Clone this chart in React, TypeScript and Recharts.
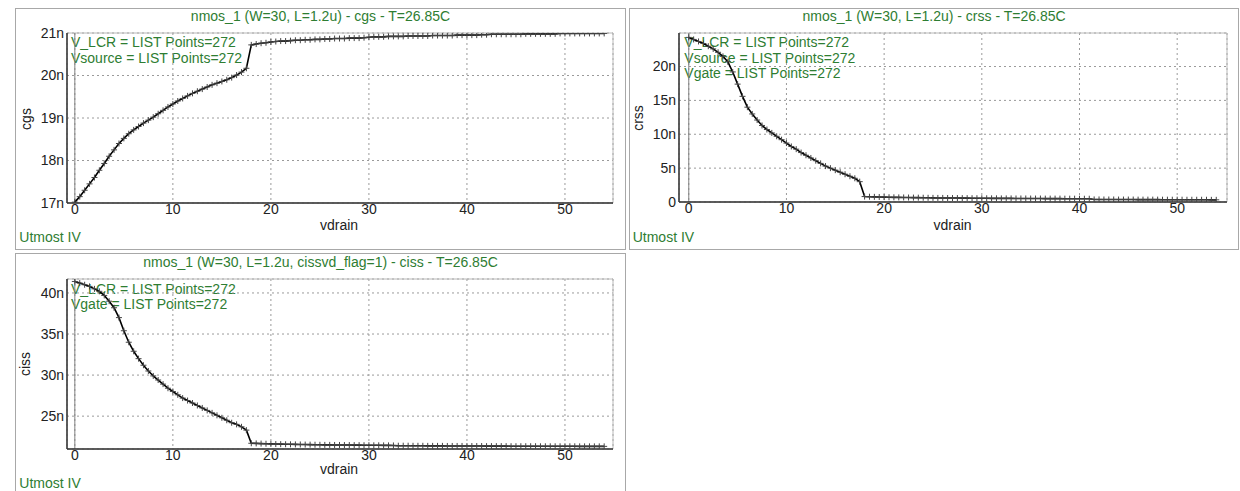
import React from 'react';
import { LineChart, Line, XAxis, YAxis, CartesianGrid, ReferenceLine, ReferenceArea } from 'recharts';

// drain sweep (V)
const VDRAIN = [
  0, 0.5, 1, 1.5, 2, 2.5, 3, 3.5, 4, 4.5, 5, 5.5, 6, 6.5, 7, 7.5, 8, 8.5, 9, 9.5,
  10, 10.5, 11, 11.5, 12, 12.5, 13, 13.5, 14, 14.5, 15, 15.5, 16, 16.5, 17, 17.5, 18, 18.5, 19, 19.5,
  20, 20.5, 21, 21.5, 22, 22.5, 23, 23.5, 24, 24.5, 25, 25.5, 26, 26.5, 27, 27.5, 28, 28.5, 29, 29.5,
  30, 30.5, 31, 31.5, 32, 32.5, 33, 33.5, 34, 34.5, 35, 35.5, 36, 36.5, 37, 37.5, 38, 38.5, 39, 39.5,
  40, 40.5, 41, 41.5, 42, 42.5, 43, 43.5, 44, 44.5, 45, 45.5, 46, 46.5, 47, 47.5, 48, 48.5, 49, 49.5,
  50, 50.5, 51, 51.5, 52, 52.5, 53, 53.5, 54,
];

// capacitances in nF
const CGS = [
  17.02, 17.15, 17.3, 17.45, 17.6, 17.77, 17.93, 18.1, 18.25, 18.4, 18.52, 18.63, 18.72, 18.8, 18.88, 18.95, 19.02, 19.1, 19.18, 19.26,
  19.33, 19.4, 19.46, 19.52, 19.58, 19.63, 19.68, 19.73, 19.78, 19.82, 19.86, 19.9, 19.95, 20.01, 20.08, 20.17, 20.72, 20.74, 20.76, 20.77,
  20.79, 20.8, 20.81, 20.81, 20.82, 20.83, 20.83, 20.84, 20.84, 20.85, 20.85, 20.86, 20.86, 20.87, 20.87, 20.87, 20.88, 20.88, 20.88, 20.89,
  20.9, 20.91, 20.91, 20.91, 20.92, 20.92, 20.92, 20.92, 20.93, 20.93, 20.93, 20.93, 20.93, 20.94, 20.94, 20.94, 20.94, 20.94, 20.95, 20.95,
  20.95, 20.95, 20.95, 20.96, 20.96, 20.97, 20.97, 20.97, 20.97, 20.97, 20.97, 20.97, 20.98, 20.98, 20.98, 20.98, 20.98, 20.98, 20.98, 20.99,
  20.99, 20.99, 20.99, 20.99, 20.99, 20.99, 20.99, 20.99, 20.99,
];

const CRSS = [
  24.3, 24.0, 23.7, 23.4, 23.0, 22.6, 22.1, 21.5, 20.7, 19.2, 17.4, 15.6, 14.0, 13.0, 12.1, 11.3, 10.7, 10.2, 9.7, 9.2,
  8.7, 8.2, 7.8, 7.3, 6.9, 6.5, 6.1, 5.7, 5.3, 5.0, 4.7, 4.4, 4.1, 3.8, 3.5, 3.0, 0.8, 0.78, 0.76, 0.74,
  0.72, 0.7, 0.69, 0.68, 0.67, 0.66, 0.65, 0.64, 0.63, 0.62, 0.61, 0.6, 0.6, 0.59, 0.58, 0.58, 0.57, 0.57, 0.56, 0.56,
  0.55, 0.55, 0.54, 0.54, 0.53, 0.53, 0.53, 0.52, 0.52, 0.52, 0.51, 0.51, 0.51, 0.5, 0.5, 0.5, 0.5, 0.49, 0.49, 0.49,
  0.48, 0.48, 0.48, 0.38, 0.38, 0.37, 0.37, 0.37, 0.36, 0.36, 0.36, 0.36, 0.35, 0.35, 0.35, 0.35, 0.35, 0.34, 0.34, 0.34,
  0.34, 0.34, 0.33, 0.33, 0.33, 0.33, 0.33, 0.32, 0.32,
];

const CISS = [
  41.4, 41.2, 41.0, 40.8, 40.5, 40.2, 39.7, 39.0, 38.2, 37.0, 35.4, 34.0, 32.9, 32.0, 31.2, 30.5, 29.9, 29.4, 28.9, 28.4,
  28.0, 27.6, 27.2, 26.9, 26.6, 26.3, 26.0, 25.7, 25.4, 25.1, 24.8, 24.5, 24.2, 24.0, 23.7, 23.3, 21.7, 21.68, 21.66, 21.64,
  21.62, 21.6, 21.59, 21.58, 21.57, 21.56, 21.55, 21.54, 21.53, 21.52, 21.51, 21.5, 21.5, 21.49, 21.49, 21.48, 21.48, 21.47, 21.47, 21.46,
  21.46, 21.45, 21.45, 21.44, 21.44, 21.43, 21.4, 21.4, 21.4, 21.39, 21.39, 21.39, 21.38, 21.38, 21.38, 21.38, 21.37, 21.37, 21.37, 21.37,
  21.36, 21.36, 21.36, 21.36, 21.35, 21.35, 21.35, 21.35, 21.35, 21.34, 21.34, 21.34, 21.34, 21.34, 21.34, 21.33, 21.33, 21.33, 21.33, 21.33,
  21.33, 21.33, 21.33, 21.32, 21.32, 21.32, 21.32, 21.32, 21.32,
];

const X_TICKS = [0, 10, 20, 30, 40, 50];
const X_MINOR = [0, 2, 4, 6, 8, 10, 12, 14, 16, 18, 20, 22, 24, 26, 28, 30, 32, 34, 36, 38, 40, 42, 44, 46, 48, 50, 52, 54];
const CGS_TICKS = [17, 18, 19, 20, 21];
const CGS_MINOR = [17, 17.2, 17.4, 17.6, 17.8, 18, 18.2, 18.4, 18.6, 18.8, 19, 19.2, 19.4, 19.6, 19.8, 20, 20.2, 20.4, 20.6, 20.8, 21];
const CRSS_TICKS = [0, 5, 10, 15, 20];
const CRSS_MINOR = [0, 1, 2, 3, 4, 5, 6, 7, 8, 9, 10, 11, 12, 13, 14, 15, 16, 17, 18, 19, 20, 21, 22, 23, 24];
const CISS_TICKS = [25, 30, 35, 40];
const CISS_MINOR = [22, 23, 24, 25, 26, 27, 28, 29, 30, 31, 32, 33, 34, 35, 36, 37, 38, 39, 40, 41];

const GREEN = '#2e7d32';
const INK = '#222';
const FONT = '"Liberation Sans", Arial, Helvetica, sans-serif';
const FS = 14;

const DATA = VDRAIN.map((v, i) => ({ vdrain: v, cgs: CGS[i], crss: CRSS[i], ciss: CISS[i] }));

const nano = (v: number) => (v === 0 ? '0' : `${v}n`);

const PlusDot = (props: any) => {
  const { cx, cy, index } = props;
  if (cx == null || cy == null) return <g key={index} />;
  return <path key={index} d={`M${cx - 3},${cy}h6M${cx},${cy - 3}v6`} stroke="#444" strokeWidth={1} fill="none" />;
};

// text placed by baseline (line box 15px, baseline ~12.1px down for 14px font)
const Txt = ({ x, base, center, children, color = GREEN }: any) => (
  <div
    style={{
      position: 'absolute',
      left: x,
      top: base - 12.1,
      lineHeight: '15px',
      fontSize: FS,
      color,
      whiteSpace: 'nowrap',
      transform: center ? 'translateX(-50%)' : undefined,
    }}
  >
    {children}
  </div>
);

const Panel = ({ cfg }: any) => {
  const { box, chart, title, notes, ylabel, dataKey, xDomain, yDomain, yTicks, yMinor } = cfg;
  return (
    <div
      style={{
        position: 'absolute',
        left: box.left,
        top: box.top,
        width: box.width,
        height: box.height,
        border: '1px solid #a8a8a8',
        boxSizing: 'border-box',
        overflow: 'hidden',
      }}
    >
      <Txt x={chart.width / 2} base={cfg.titleBase} center>{title}</Txt>
      <div style={{ position: 'absolute', left: cfg.notesLeft, top: cfg.notesTop, fontSize: FS, lineHeight: '15.3px', color: GREEN, whiteSpace: 'nowrap' }}>
        {notes.map((n: string) => <div key={n}>{n}</div>)}
      </div>
      <div
        style={{
          position: 'absolute',
          left: cfg.ylabelPos[0],
          top: cfg.ylabelPos[1],
          fontSize: FS,
          lineHeight: '15px',
          color: INK,
          whiteSpace: 'nowrap',
          transform: 'translate(-50%, -50%) rotate(-90deg)',
        }}
      >
        {ylabel}
      </div>
      <Txt x={cfg.xlabelPos[0]} base={cfg.xlabelPos[1]} center color={INK}>vdrain</Txt>
      <Txt x={cfg.footPos[0]} base={cfg.footPos[1]}>Utmost IV</Txt>
      <div style={{ position: 'absolute', left: 0, top: 0 }}>
        <LineChart width={chart.width} height={chart.height} data={DATA} margin={chart.margin}>
          <CartesianGrid stroke="#9a9a9a" strokeDasharray="2 3" />
          <ReferenceArea x1={xDomain[0]} x2={xDomain[1]} y1={yDomain[0]} y2={yDomain[1]} fill="none" stroke="#b8b8b8" ifOverflow="visible" />
          <ReferenceLine x={0} stroke="#808080" />
          <XAxis
            dataKey="vdrain"
            type="number"
            domain={xDomain}
            ticks={X_TICKS}
            interval={0}
            allowDataOverflow
            height={chart.xAxisH}
            tickLine={false}
            tickSize={0}
            tickMargin={1}
            axisLine={{ stroke: '#333', strokeWidth: 1.5 }}
            tick={{ fontSize: FS, fill: INK, fontFamily: FONT }}
          />
          <XAxis
            xAxisId="minor"
            type="number"
            domain={xDomain}
            ticks={X_MINOR}
            interval={0}
            allowDataOverflow
            mirror
            height={0}
            tick={false}
            axisLine={false}
            tickSize={3}
            tickLine={{ stroke: '#333' }}
          />
          <YAxis
            type="number"
            domain={yDomain}
            ticks={yTicks}
            interval={0}
            allowDataOverflow
            width={chart.yAxisW}
            tickLine={false}
            tickSize={0}
            tickMargin={3}
            tickFormatter={nano}
            axisLine={{ stroke: '#333', strokeWidth: 1.5 }}
            tick={{ fontSize: FS, fill: INK, fontFamily: FONT }}
          />
          <YAxis
            yAxisId="minor"
            type="number"
            domain={yDomain}
            ticks={yMinor}
            interval={0}
            allowDataOverflow
            mirror
            width={0}
            tick={false}
            axisLine={false}
            tickSize={3}
            tickLine={{ stroke: '#333' }}
          />
          <Line type="linear" dataKey={dataKey} stroke="#000" strokeWidth={1.6} dot={PlusDot} isAnimationActive={false} />
        </LineChart>
      </div>
    </div>
  );
};

const PANELS = [
  {
    box: { left: 15, top: 8, width: 611, height: 242 },
    chart: { width: 609, height: 240, margin: { top: 24, right: 12, left: 0, bottom: 0 }, yAxisW: 51, xAxisH: 46 },
    title: 'nmos_1 (W=30, L=1.2u) - cgs - T=26.85C',
    titleBase: 12,
    notes: ['V_LCR = LIST Points=272', 'Vsource = LIST Points=272'],
    notesLeft: 55,
    notesTop: 26.4,
    ylabel: 'cgs',
    ylabelPos: [9.7, 109.7],
    xlabelPos: [323, 221],
    footPos: [3.3, 233.3],
    dataKey: 'cgs',
    xDomain: [-0.8, 54.9],
    yDomain: [17, 21],
    yTicks: CGS_TICKS,
    yMinor: CGS_MINOR,
  },
  {
    box: { left: 629, top: 8, width: 610, height: 242 },
    chart: { width: 608, height: 240, margin: { top: 24, right: 11, left: 0, bottom: 0 }, yAxisW: 49, xAxisH: 47 },
    title: 'nmos_1 (W=30, L=1.2u) - crss - T=26.85C',
    titleBase: 12,
    notes: ['V_LCR = LIST Points=272', 'Vsource = LIST Points=272', 'Vgate = LIST Points=272'],
    notesLeft: 54.3,
    notesTop: 26.4,
    ylabel: 'crss',
    ylabelPos: [8, 109],
    xlabelPos: [322.5, 221],
    footPos: [2.7, 233.3],
    dataKey: 'crss',
    xDomain: [-1, 55.1],
    yDomain: [0, 24.95],
    yTicks: CRSS_TICKS,
    yMinor: CRSS_MINOR,
  },
  {
    box: { left: 15, top: 253, width: 611, height: 246 },
    chart: { width: 609, height: 240, margin: { top: 25, right: 12, left: 0, bottom: 0 }, yAxisW: 51, xAxisH: 45 },
    title: 'nmos_1 (W=30, L=1.2u, cissvd_flag=1) - ciss - T=26.85C',
    titleBase: 12.7,
    notes: ['V_LCR = LIST Points=272', 'Vgate = LIST Points=272'],
    notesLeft: 55,
    notesTop: 27.7,
    ylabel: 'ciss',
    ylabelPos: [9, 110],
    xlabelPos: [323, 220],
    footPos: [3.3, 234.3],
    dataKey: 'ciss',
    xDomain: [-0.8, 54.9],
    yDomain: [21, 41.7],
    yTicks: CISS_TICKS,
    yMinor: CISS_MINOR,
  },
];

export default function App() {
  return (
    <div
      style={{
        position: 'absolute',
        left: 0,
        top: 0,
        width: 1240,
        height: 491,
        overflow: 'hidden',
        background: '#fff',
        fontFamily: FONT,
      }}
    >
      {PANELS.map((p) => (
        <Panel key={p.dataKey} cfg={p} />
      ))}
    </div>
  );
}
